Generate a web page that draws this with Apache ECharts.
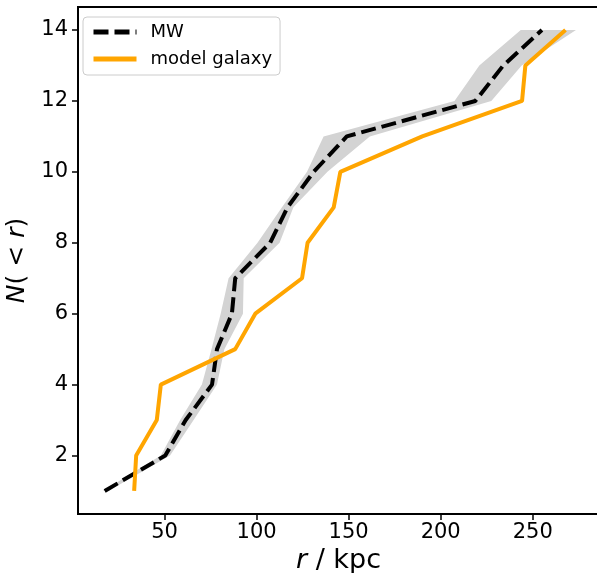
<!DOCTYPE html>
<html>
<head>
<meta charset="utf-8">
<script src="https://cdn.jsdelivr.net/npm/echarts@6/dist/echarts.min.js"></script>
<style>
  html, body { margin: 0; padding: 0; background: #fff; }
  #main { width: 597px; height: 573px; }
</style>
</head>
<body>
<div id="main"></div>
<script>
// N(<r) counts
const counts = [1, 2, 3, 4, 5, 6, 7, 8, 9, 10, 11, 12, 13, 14];
// MW radii and the shaded band around them (kpc)
const mwR  = [17.5, 50.4, 61.5, 75.8, 78.5, 86.6, 88.4, 107.4, 116.8, 131, 149, 218.8, 234, 255];
const mwLo = [16.5, 48, 58.5, 70.3, 75.5, 80.5, 84.8, 100.5, 113.8, 127.4, 136.4, 207.5, 221, 243.5];
const mwHi = [19.5, 53, 65.8, 78.5, 82.5, 92.6, 93, 112.5, 120, 138.5, 161.5, 227.5, 244, 273.5];
// model galaxy radii (kpc)
const galR = [33.5, 34.6, 45.8, 48, 88.4, 99.3, 124.7, 127.7, 141.9, 145.5, 190, 244.2, 246, 267.8];

const xTicks = [50, 100, 150, 200, 250];
const yTicks = [2, 4, 6, 8, 10, 12, 14];

const chartDom = document.getElementById('main');
const myChart = echarts.init(chartDom);

const font = 'DejaVu Sans';

let option = {
  animation: false,
  grid: {
    left: 78, top: 7, width: 521, height: 507,
    outerBoundsMode: 'none',
    show: true, borderColor: '#000', borderWidth: 2
  },
  legend: {
    left: 83, top: 17,
    orient: 'vertical',
    padding: [6, 8, 7, 8],
    itemGap: 9,
    itemWidth: 43,
    itemHeight: 14,
    borderColor: '#cccccc',
    borderWidth: 1,
    borderRadius: 4,
    backgroundColor: '#fff',
    itemStyle: { opacity: 0 },
    lineStyle: { width: 5 },
    textStyle: { fontFamily: font, fontSize: 18, color: '#000', padding: [0, 0, 0, 9] },
    data: ['MW', 'model galaxy']
  },
  xAxis: {
    type: 'value',
    min: 3, max: 286,
    splitLine: { show: false },
    axisLine: { lineStyle: { color: '#000', width: 2 } },
    axisTick: { length: 6, lineStyle: { color: '#000', width: 1.5 }, customValues: xTicks },
    axisLabel: { fontFamily: font, fontSize: 21, color: '#000', margin: 8, customValues: xTicks },
    name: '{i|r} / kpc',
    nameLocation: 'middle',
    nameGap: 32,
    nameTextStyle: {
      fontFamily: font, fontSize: 27, color: '#000', verticalAlign: 'top',
      rich: { i: { fontFamily: font, fontSize: 27, fontStyle: 'italic', color: '#000' } }
    }
  },
  yAxis: {
    type: 'value',
    min: 0.35, max: 14.65,
    splitLine: { show: false },
    axisLine: { lineStyle: { color: '#000', width: 2 } },
    axisTick: { length: 6, lineStyle: { color: '#000', width: 1.5 }, customValues: yTicks },
    axisLabel: { fontFamily: font, fontSize: 21, color: '#000', margin: 10, customValues: yTicks },
    name: '{i|N}( < {i|r})',
    nameLocation: 'middle',
    nameRotate: 90,
    nameGap: 40,
    nameTextStyle: {
      fontFamily: font, fontSize: 25, color: '#000',
      rich: { i: { fontFamily: font, fontSize: 25, fontStyle: 'italic', color: '#000' } }
    }
  },
  series: [
    {
      // shaded band, built as a polygon through the axis scales
      name: 'band',
      type: 'custom',
      silent: true,
      z: 1,
      data: [0],
      renderItem: function (params, api) {
        const pts = [];
        for (let i = 0; i < counts.length; i++) pts.push(api.coord([mwLo[i], counts[i]]));
        for (let i = counts.length - 1; i >= 0; i--) pts.push(api.coord([mwHi[i], counts[i]]));
        return {
          type: 'polygon',
          shape: { points: pts },
          style: { fill: '#d3d3d3', stroke: null }
        };
      }
    },
    {
      name: 'MW',
      type: 'line',
      z: 2,
      showSymbol: false,
      symbol: 'none',
      color: '#000',
      lineStyle: { color: '#000', width: 4, type: [15, 6] },
      data: mwR.map((r, i) => [r, counts[i]])
    },
    {
      name: 'model galaxy',
      type: 'line',
      z: 3,
      showSymbol: false,
      symbol: 'none',
      color: '#ffa500',
      lineStyle: { color: '#ffa500', width: 4 },
      data: galR.map((r, i) => [r, counts[i]])
    }
  ]
};

option && myChart.setOption(option);
</script>
</body>
</html>
